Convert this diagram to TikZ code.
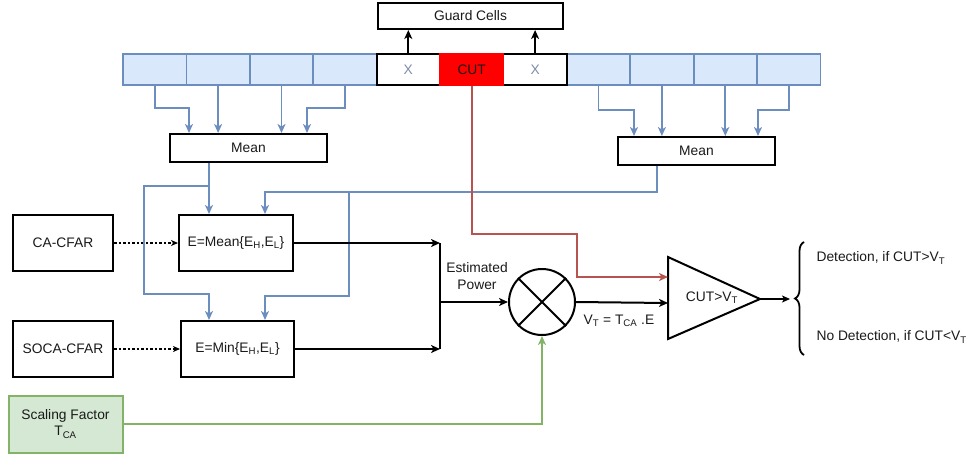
\documentclass[tikz,border=0pt]{standalone}
\usepackage{fontspec}
\setmainfont{Liberation Sans}
\usetikzlibrary{arrows.meta,decorations.pathreplacing,calc}
\definecolor{bluefill}{HTML}{DAE8FC}
\definecolor{bluedraw}{HTML}{6C8EBF}
\definecolor{greenfill}{HTML}{D5E8D4}
\definecolor{greendraw}{HTML}{82B366}
\definecolor{redline}{HTML}{B85450}
\definecolor{txt}{HTML}{1A1A1A}
\definecolor{xgray}{HTML}{7F8DA8}
\begin{document}
\begin{tikzpicture}[x=1pt,y=-1pt,
  font=\fontsize{13.8}{16}\selectfont, text=txt,
  tip/.style={-{Stealth[length=9pt,width=8pt,inset=2.5pt]}},
  cell/.style={draw=bluedraw, fill=bluefill, line width=1.8pt, minimum width=63.4pt, minimum height=31pt, inner sep=0pt},
  guard/.style={cell, draw=black, fill=white, text=xgray},
  cutcell/.style={cell, draw=red, fill=red},
  box/.style={draw=black, line width=2pt, fill=white, inner sep=0pt, align=center},
  gbox/.style={box, draw=greendraw, fill=greenfill},
  bl/.style={draw=bluedraw, line width=1.8pt, tip},
  blk/.style={draw=black, line width=2pt, tip},
  blkp/.style={draw=black, line width=2pt},
  rd/.style={draw=redline, line width=1.8pt, tip},
  gr/.style={draw=greendraw, line width=1.8pt, tip},
  dot/.style={draw=black, line width=1.1pt, dash pattern=on 2.5pt off 2pt, -{Stealth[length=7pt,width=6pt,inset=2pt]}}
]
\useasboundingbox (0,0) rectangle (974,456);

% cell row
\foreach \i in {1,2,3,4,8,9,10,11}{
  \node[cell] (c\i) at ({123+63.4*(\i-0.5)},69.5) {};
}
\node[guard] (c5) at ({123+63.4*4.5},69.5) {X};
\node[guard] (c7) at ({123+63.4*6.5},69.5) {X};
\node[cutcell] (c6) at ({123+63.4*5.5},69.5) {CUT};

% guard cells label
\node[box, minimum width=185pt, minimum height=26pt] (gc) at (470.5,16) {Guard Cells};
\draw[blk] (c5.north) -- (c5.north |- gc.south);
\draw[blk] (c7.north) -- (c7.north |- gc.south);

% mean boxes
\node[box, minimum width=157pt, minimum height=28pt] (mL) at (248.5,148) {Mean};
\node[box, minimum width=157pt, minimum height=28pt] (mR) at (696.5,151) {Mean};

\draw[bl] (c1.south) -- (c1.south |- 0,108) -| ($(mL.north west)+(20,0)$);
\draw[bl] (c2.south) -- (c2.south |- mL.north);
\draw[bl] (c3.south) -- (c3.south |- mL.north);
\draw[bl] (c4.south) -- (c4.south |- 0,108) -| ($(mL.north east)+(-21,0)$);

\draw[bl] (c8.south) -- (c8.south |- 0,110) -| ($(mR.north west)+(17,0)$);
\draw[bl] (c9.south) -- (c9.south |- mR.north);
\draw[bl] (c10.south) -- (c10.south |- mR.north);
\draw[bl] (c11.south) -- (c11.south |- 0,110) -| ($(mR.north east)+(-18,0)$);

% CFAR boxes
\node[box, minimum width=100pt, minimum height=56pt] (caf) at (63,243) {CA-CFAR};
\node[box, minimum width=114pt, minimum height=56pt] (emean) at (236,243) {E=Mean\{E\textsubscript{H},E\textsubscript{L}\}};
\node[box, minimum width=100pt, minimum height=56pt] (soca) at (63,349) {SOCA-CFAR};
\node[box, minimum width=113pt, minimum height=56pt] (emin) at (237.5,349) {E=Min\{E\textsubscript{H},E\textsubscript{L}\}};
\node[gbox, minimum width=114pt, minimum height=57pt] (scl) at (65.5,424) {Scaling Factor\\T\textsubscript{CA}};

\draw[dot] (caf) -- (emean);
\draw[dot] (soca) -- (emin);

% blue routing from the means
\coordinate (xa) at (209,0);
\coordinate (xb) at (265,0);
\coordinate (xk) at (657,0);
\coordinate (j1) at (209,186);
\coordinate (j2) at (349,192);
\draw[bl] (mL.south -| xa) -- (emean.north -| xa);
\draw[bl] (j1) -- (144,186) -- (144,294) -| (emin.north -| xa);
\draw[bl] (mR.south -| xk) |- (j2) -| (emean.north -| xb);
\draw[bl] (j2) -- (349,296) -| (emin.north -| xb);

% multiplier
\node[draw=black, line width=2pt, circle, minimum size=66pt, inner sep=0pt] (mult) at (542,302) {};
\draw[blkp] (mult.north west) -- (mult.south east);
\draw[blkp] (mult.north east) -- (mult.south west);

\coordinate (bus1) at (440,243);
\coordinate (bus2) at (440,349);
\coordinate (bus3) at (440,302);
\draw[blk] (emean.east) -- (bus1);
\draw[blk] (emin.east) -- (bus2);
\draw[blkp] (bus1) -- (bus2);
\draw[blk] (bus3) -- (mult.west);
\node[align=center, font=\fontsize{13.8}{17}\selectfont] (ep) at (477,276) {Estimated\\Power};

% comparator
\coordinate (tA) at (668,257);
\coordinate (tB) at (668,339);
\coordinate (tC) at (760,299);
\draw[line width=2pt, line join=miter] (tA) -- (tC) -- (tB) -- cycle;
\node (cmp) at (712,298) {CUT>V\textsubscript{T}};
\coordinate (tin1) at (668,277);
\coordinate (tin2) at (668,303);
\coordinate (r1) at (577,234);
\draw[rd] (c6.south) |- (r1) |- (tin1);
\draw[blk] (mult.east) -- (tin2);
\node (vt) at (619,321) {V\textsubscript{T} = T\textsubscript{CA} .E};
\draw[gr] (scl.east) -| (mult.south);

% decision
\coordinate (br) at (790,299);
\draw[draw=black, line width=1.2pt, -{Stealth[length=8pt,width=7pt,inset=2pt]}] (tC) -- (br);
\draw[line width=1.8pt, decorate, decoration={brace, amplitude=9pt}] (804,355) -- (804,242);
\node[anchor=west] (d1) at (813,258) {Detection, if CUT>V\textsubscript{T}};
\node[anchor=west] (d2) at (813,337) {No Detection, if CUT<V\textsubscript{T}};
\end{tikzpicture}
\end{document}
